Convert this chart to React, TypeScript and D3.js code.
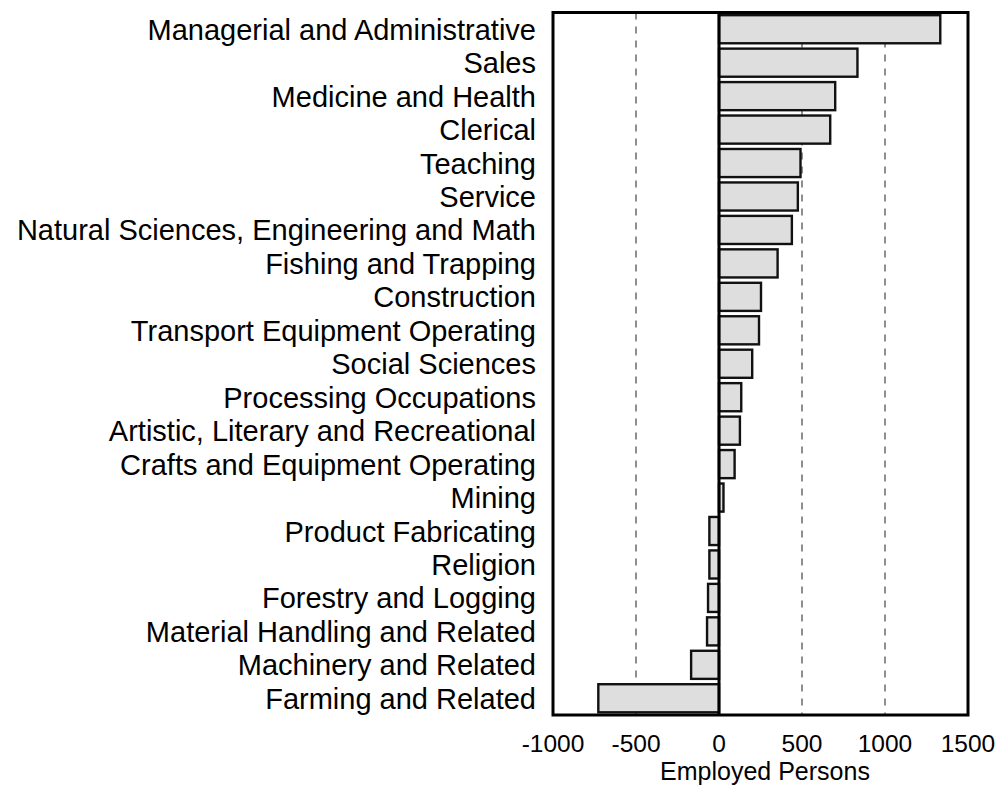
import React from "react";
import * as d3 from "d3";

const categories = [
  "Managerial and Administrative",
  "Sales",
  "Medicine and Health",
  "Clerical",
  "Teaching",
  "Service",
  "Natural Sciences, Engineering and Math",
  "Fishing and Trapping",
  "Construction",
  "Transport Equipment Operating",
  "Social Sciences",
  "Processing Occupations",
  "Artistic, Literary and Recreational",
  "Crafts and Equipment Operating",
  "Mining",
  "Product Fabricating",
  "Religion",
  "Forestry and Logging",
  "Material Handling and Related",
  "Machinery and Related",
  "Farming and Related",
];

const values = [
  1333, 834, 700, 670, 491, 475, 439, 353, 253, 241, 200, 134, 126, 94, 27,
  -58, -58, -66, -72, -168, -727,
];

const xTicks = [-1000, -500, 0, 500, 1000, 1500];
const gridValues = [-500, 500, 1000];

const W = 1002;
const H = 787;
const left = 553;
const right = 968;
const top = 12.5;
const bottom = 715;
const FONT = "'Liberation Sans', Arial, Helvetica, sans-serif";

export default function App() {
  const x = d3.scaleLinear().domain([-1000, 1500]).range([left, right]);
  const y = d3
    .scaleBand<string>()
    .domain(categories)
    .range([top, bottom])
    .paddingInner(0.16)
    .paddingOuter(0.08);

  return (
    <svg
      width={W}
      height={H}
      style={{ position: "absolute", left: 0, top: 0, background: "#fff" }}
      fontFamily={FONT}
    >
      {gridValues.map((g) => (
        <line
          key={g}
          x1={x(g)}
          x2={x(g)}
          y1={top}
          y2={bottom}
          stroke="#444"
          strokeWidth={1.2}
          strokeDasharray="7,7"
        />
      ))}
      {categories.map((c, i) => {
        const v = values[i];
        const x0 = Math.min(x(0), x(v));
        const w = Math.abs(x(v) - x(0));
        return (
          <rect
            key={c}
            x={x0}
            y={y(c)}
            width={w}
            height={y.bandwidth()}
            fill="#dedede"
            stroke="#111"
            strokeWidth={2.4}
          />
        );
      })}
      <line x1={x(0)} x2={x(0)} y1={top} y2={bottom} stroke="#000" strokeWidth={3} />
      <rect
        x={left}
        y={top}
        width={right - left}
        height={bottom - top}
        fill="none"
        stroke="#000"
        strokeWidth={3}
      />
      {categories.map((c) => (
        <text
          key={c}
          x={536}
          y={(y(c) as number) + y.bandwidth() / 2 + 10.5}
          textAnchor="end"
          fontSize={29}
          fill="#000"
        >
          {c}
        </text>
      ))}
      {xTicks.map((t) => (
        <text key={t} x={x(t)} y={752} textAnchor="middle" fontSize={24.5} fill="#000">
          {t}
        </text>
      ))}
      <text x={765} y={780} textAnchor="middle" fontSize={25} fill="#000">
        Employed Persons
      </text>
    </svg>
  );
}
